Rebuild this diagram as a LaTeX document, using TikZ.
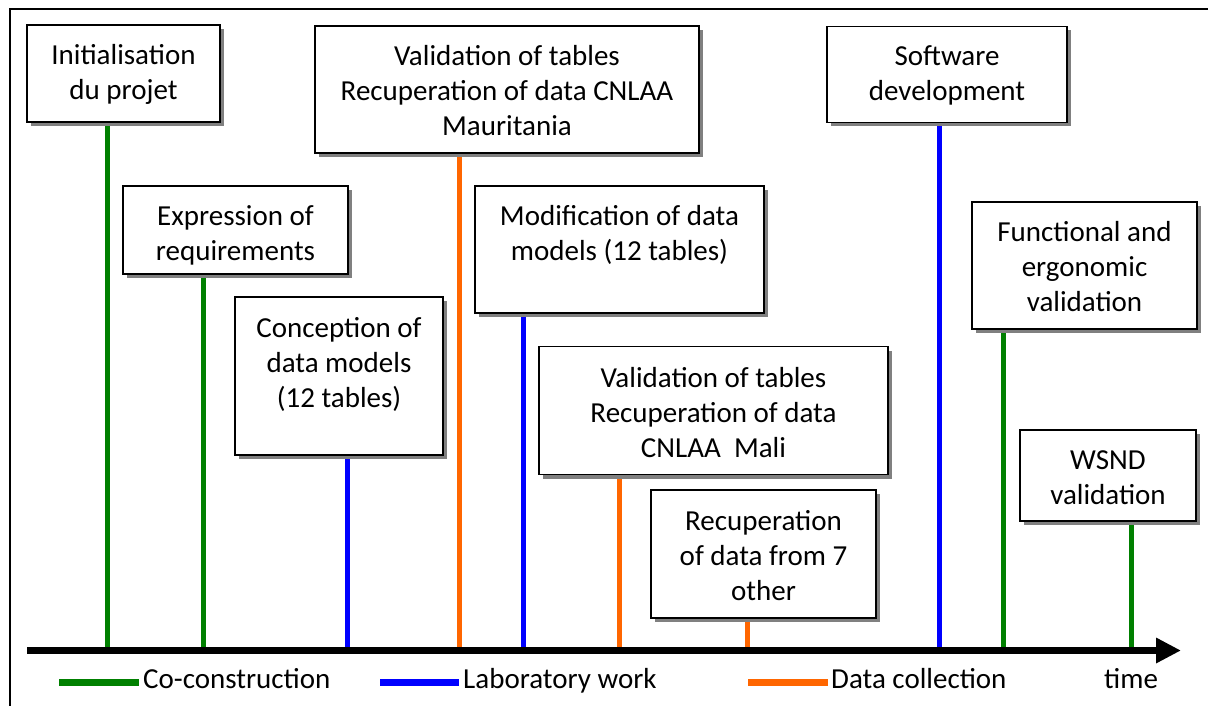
\documentclass[tikz,border=0pt]{standalone}
\usepackage{fontspec}
\setmainfont{Carlito}
\usetikzlibrary{shadows,arrows.meta}
\definecolor{cogreen}{RGB}{0,128,0}
\definecolor{labblue}{RGB}{0,0,255}
\definecolor{dataorange}{RGB}{255,102,0}
\pgfdeclarelayer{bg}
\pgfsetlayers{bg,main}
\begin{document}
\begin{tikzpicture}[x=1pt,y=-1pt,
  box/.style={draw=black, line width=1.6pt, fill=white, inner sep=0pt,
    drop shadow={shadow xshift=4pt, shadow yshift=-4pt, fill=black!50, opacity=1}},
  lbl/.style={inner sep=0pt, align=center, anchor=north,
    font=\fontsize{29}{35}\selectfont, execute at begin node=\rule{0pt}{24pt}},
  legtxt/.style={inner sep=0pt, anchor=base west, font=\fontsize{29}{35}\selectfont},
  tick/.style={line width=5pt},
  legline/.style={line width=7pt}]
\useasboundingbox (0,0) rectangle (1208,706);
\clip (0,0) rectangle (1208,706);
% outer frame
\draw[line width=2pt] (10,9) rectangle (1240,740);

% axis coordinates
\coordinate (a0) at (27,650.5);
\coordinate (a1) at (1181,650.5);
\coordinate (t1) at (107,650.5);
\coordinate (t2) at (203,650.5);
\coordinate (t3) at (347,650.5);
\coordinate (t4) at (459,650.5);
\coordinate (t5) at (523,650.5);
\coordinate (t6) at (619,650.5);
\coordinate (t7) at (747,650.5);
\coordinate (t8) at (939,650.5);
\coordinate (t9) at (1003,650.5);
\coordinate (t10) at (1131,650.5);

% boxes
\node[box, minimum width=193pt, minimum height=97pt] (b1) at (123.5,73.5) {};
\node[box, minimum width=384pt, minimum height=127pt] (b2) at (507,89.5) {};
\node[box, minimum width=240pt, minimum height=96pt] (b3) at (947,74.5) {};
\node[box, minimum width=225pt, minimum height=88pt] (b4) at (235.5,230) {};
\node[box, minimum width=289pt, minimum height=127pt] (b5) at (619.5,249.5) {};
\node[box, minimum width=225pt, minimum height=127pt] (b6) at (1084.5,265.5) {};
\node[box, minimum width=208pt, minimum height=158pt] (b7) at (339,376) {};
\node[box, minimum width=349pt, minimum height=128pt] (b8) at (713.5,410.5) {};
\node[box, minimum width=225pt, minimum height=128pt] (b9) at (763.5,554) {};
\node[box, minimum width=176pt, minimum height=91pt] (b10) at (1108,475.5) {};

% ticks (behind the boxes)
\begin{pgfonlayer}{bg}
\fill[white] (0,0) rectangle (1208,706);
\draw[tick, cogreen] (t1 |- b1.south) -- (t1);
\draw[tick, cogreen] (t2 |- b4.south) -- (t2);
\draw[tick, labblue] (t3 |- b7.south) -- (t3);
\draw[tick, dataorange] (t4 |- b2.south) -- (t4);
\draw[tick, labblue] (t5 |- b5.south) -- (t5);
\draw[tick, dataorange] (t6 |- b8.south) -- (t6);
\draw[tick, dataorange] (t7 |- b9.south) -- (t7);
\draw[tick, labblue] (t8 |- b3.south) -- (t8);
\draw[tick, cogreen] (t9 |- b6.south) -- (t9);
\draw[tick, cogreen] (t10 |- b10.south) -- (t10);
\end{pgfonlayer}

% labels
\node[lbl] (l1) at ([yshift=-20pt]b1.north) {Initialisation\\du projet};
\node[lbl] (l2) at ([yshift=-20pt]b2.north) {Validation of tables\\Recuperation of data CNLAA\\Mauritania};
\node[lbl] (l3) at ([yshift=-20pt]b3.north) {Software\\development};
\node[lbl] (l4) at ([yshift=-20pt]b4.north) {Expression of\\requirements};
\node[lbl] (l5) at ([yshift=-20pt]b5.north) {Modification of data\\models (12 tables)};
\node[lbl] (l6) at ([yshift=-20pt]b6.north) {Functional and\\ergonomic\\validation};
\node[lbl] (l7) at ([yshift=-21pt]b7.north) {Conception of\\data models\\(12 tables)};
\node[lbl] (l8) at ([yshift=-21pt]b8.north) {Validation of tables\\Recuperation of data\\CNLAA~~Mali};
\node[lbl] (l9) at ([yshift=-21pt]b9.north) {Recuperation\\of data from 7\\other};
\node[lbl] (l10) at ([yshift=-21pt]b10.north) {WSND\\validation};

% axis
\draw[line width=7.5pt, -{Triangle[length=25pt,width=24pt]}] (a0) -- (a1);

% legend
\coordinate (g0) at (59,682);
\coordinate (g1) at (139,682);
\coordinate (u0) at (380,682);
\coordinate (u1) at (459,682);
\coordinate (o0) at (748,682);
\coordinate (o1) at (828,682);
\draw[legline, cogreen] (g0) -- (g1);
\draw[legline, labblue] (u0) -- (u1);
\draw[legline, dataorange] (o0) -- (o1);
\node[legtxt] (lg) at (143,688) {Co-construction};
\node[legtxt] (lu) at (463,688) {Laboratory work};
\node[legtxt] (lo) at (831,688) {Data collection};
\node[legtxt] (lt) at (1104,688) {time};
\end{tikzpicture}
\end{document}
